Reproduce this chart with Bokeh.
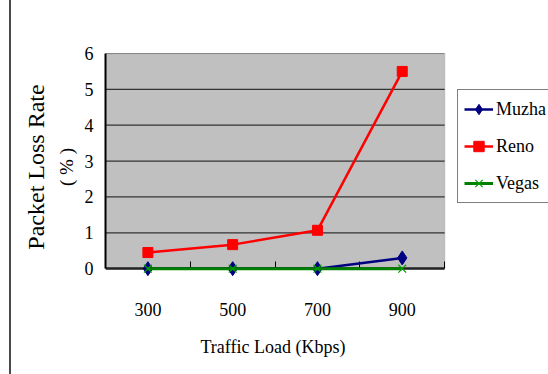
from bokeh.plotting import figure
from bokeh.models import (Range1d, FixedTicker, Legend, LegendItem, Title,
                          BoxAnnotation, LinearAxis)
from bokeh.embed import file_html
from bokeh.resources import INLINE

# ---- data ----
traffic_load = [300, 500, 700, 900]
muzha = [0.0, 0.0, 0.0, 0.3]
reno = [0.45, 0.67, 1.07, 5.5]
vegas = [0.0, 0.0, 0.0, 0.0]
y_ticks = [0, 1, 2, 3, 4, 5, 6]
x_edges = [200, 400, 600, 800, 1000]

FONT = "Liberation Serif"

p = figure(width=548, height=374, output_backend="svg", toolbar_location=None,
           x_range=Range1d(200, 1245), y_range=Range1d(-0.33, 6))
p.min_border_left = 105
p.min_border_right = 0
p.min_border_top = 53
p.min_border_bottom = 94
p.background_fill_color = "white"
p.border_fill_color = "white"
p.border_fill_alpha = 0
p.outline_line_color = None
p.styles = {"background": "linear-gradient(to right, #ffffff 0px, #ffffff 9px, "
                          "#4a4a4a 9px, #4a4a4a 11px, #ffffff 11px)"}

# gray plot area
p.add_layout(BoxAnnotation(bottom=y_ticks[0], right=x_edges[-1],
                           fill_color="#C0C0C0", fill_alpha=1,
                           line_color="#808080", line_width=1.5, level="image"))
p.xgrid.grid_line_color = None
p.ygrid.grid_line_color = None
p.segment(x0=x_edges[0], x1=x_edges[-1], y0=y_ticks[1:], y1=y_ticks[1:],
          line_color="#333333", line_width=1.2, level="underlay")

# x axis: labels axis at the bottom panel (no line), line axis fixed at y=0
xa = p.xaxis[0]
xa.ticker = FixedTicker(ticks=traffic_load, minor_ticks=[])
xa.axis_line_color = None
xa.major_tick_line_color = None
xa.minor_tick_line_color = None
xa.major_label_standoff = 16
xa.major_label_text_font = FONT
xa.major_label_text_font_size = "18px"
xa.major_label_text_color = "black"

x0axis = LinearAxis(fixed_location=y_ticks[0], bounds=(x_edges[0], x_edges[-1]),
                    ticker=FixedTicker(ticks=[], minor_ticks=x_edges),
                    axis_line_color="#222222", axis_line_width=2.5,
                    major_tick_line_color=None,
                    minor_tick_in=7, minor_tick_out=0,
                    minor_tick_line_color="black", minor_tick_line_width=1,
                    major_label_text_font_size="0px", major_label_standoff=0)
p.add_layout(x0axis, "below")

p.add_layout(Title(text="Traffic Load (Kbps)", align="left", offset=95,
                   text_font=FONT, text_font_size="18px", text_font_style="normal",
                   text_color="black", standoff=33), "below")

ya = p.yaxis[0]
ya.bounds = (0, 6)
ya.ticker = FixedTicker(ticks=y_ticks)
ya.major_tick_in = 0
ya.major_tick_out = 0
ya.minor_tick_line_color = None
ya.axis_line_color = "black"
ya.axis_line_width = 2
ya.major_label_standoff = 12
ya.major_label_text_font = FONT
ya.major_label_text_font_size = "18px"
ya.major_label_text_color = "black"

# y title (two lines), inner one first
p.add_layout(Title(text="( % )", align="center", text_font=FONT,
                   text_font_size="19px", text_font_style="normal",
                   text_color="black", standoff=9), "left")
p.add_layout(Title(text="Packet Loss Rate", align="center", text_font=FONT,
                   text_font_size="24px", text_font_style="normal",
                   text_color="black", standoff=2), "left")

# series (drawn above the axis line, like the reference)
l1 = p.line(traffic_load, muzha, line_color="#000080", line_width=2.5, level="overlay")
s1 = p.scatter(traffic_load, muzha, marker="diamond", size=14,
               fill_color="#000080", line_color="#000080", level="overlay")
l2 = p.line(traffic_load, reno, line_color="#FF0000", line_width=2.5, level="overlay")
s2 = p.scatter(traffic_load, reno, marker="square", size=10,
               fill_color="#FF0000", line_color="#FF0000", level="overlay")
l3 = p.line(traffic_load, vegas, line_color="#008000", line_width=3, level="overlay")
s3 = p.scatter(traffic_load, vegas, marker="x", size=11,
               line_color="#00A000", line_width=1.2, level="overlay")

legend = Legend(items=[
    LegendItem(label="Muzha", renderers=[l1, s1]),
    LegendItem(label="Reno", renderers=[l2, s2]),
    LegendItem(label="Vegas", renderers=[l3, s3]),
], location=(352, 77))
legend.border_line_color = "black"
legend.border_line_width = 1
legend.background_fill_color = "white"
legend.background_fill_alpha = 1
legend.label_text_font = FONT
legend.label_text_font_size = "18px"
legend.label_text_color = "black"
legend.glyph_width = 29
legend.glyph_height = 26
legend.label_height = 26
legend.spacing = 11
legend.padding = 6
legend.margin = 0
legend.label_standoff = 3
p.add_layout(legend)

open("out.html", "w").write(file_html(p, INLINE))
